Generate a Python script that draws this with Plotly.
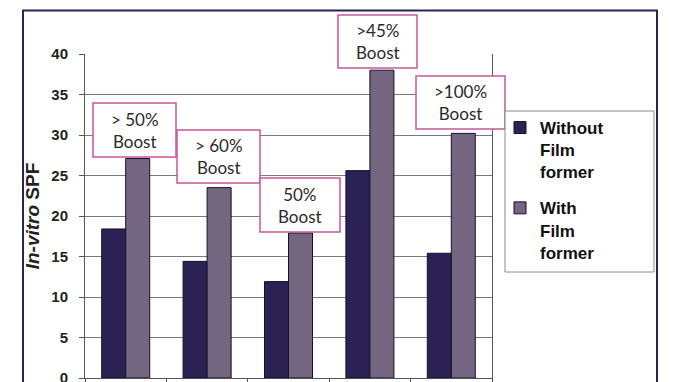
import plotly.graph_objects as go

categories = ["A", "B", "C", "D", "E"]
without_film = [18.4, 14.4, 11.9, 25.6, 15.4]
with_film = [27.1, 23.5, 17.9, 38.0, 30.2]
boost_labels = ["> 50%<br>Boost", "> 60%<br>Boost", "50%<br>Boost", ">45%<br>Boost", ">100%<br>Boost"]
series_names = ["Without<br>Film<br>former", "With<br>Film<br>former"]

W, H = 678, 382
L, R, T, B = 85, 492, 54, 378  # plot area in pixels


def px(x):
    return (x - L) / (R - L)


def py(y):
    return (B - y) / (B - T)


fig = go.Figure()
fig.add_trace(go.Bar(x=categories, y=without_film, name=series_names[0], legendgroup="a",
                     marker=dict(color="#2b2152", line=dict(color="#15102a", width=1))))
fig.add_trace(go.Bar(x=categories, y=with_film, name=series_names[1], legendgroup="b",
                     marker=dict(color="#746680", line=dict(color="#15102a", width=1))))

# annotation boxes (pixel boxes: x0, y0, x1, y1)
boxes = [(93, 103, 176, 157), (177, 130, 260, 183), (260, 178, 340, 232),
         (338, 15, 417, 68), (416, 76, 505, 129)]
shapes = []
annotations = []
for (x0, y0, x1, y1), txt in zip(boxes, boost_labels):
    shapes.append(dict(type="rect", xref="paper", yref="paper",
                       x0=px(x0), x1=px(x1), y0=py(y1), y1=py(y0),
                       line=dict(color="#c8559b", width=1.5), fillcolor="white", layer="above"))
    annotations.append(dict(xref="paper", yref="paper", x=px((x0 + x1) / 2), y=py((y0 + y1) / 2),
                            text=txt, showarrow=False, xanchor="center", yanchor="middle",
                            font=dict(family="Lato", size=17, color="#2a2a2a")))

# legend frame
shapes.append(dict(type="rect", xref="paper", yref="paper",
                   x0=px(505), x1=px(654), y0=py(272), y1=py(111),
                   line=dict(color="#8a8a8a", width=1), fillcolor="white", layer="above"))

# outer frame
shapes.append(dict(type="path", xref="paper", yref="paper",
                   path=f"M {px(23)} {-0.2} L {px(23)} {py(10.5)} L {px(657)} {py(10.5)} L {px(657)} {-0.2}",
                   line=dict(color="#2a2550", width=2)))

fig.update_layout(
    width=W, height=H,
    margin=dict(l=L, r=W - R, t=T, b=H - B, autoexpand=False),
    paper_bgcolor="white", plot_bgcolor="white",
    barmode="group", bargap=0.41, bargroupgap=0,
    showlegend=True,
    legend=dict(x=px(500), y=py(110), xanchor="left", yanchor="top",
                borderwidth=0, bgcolor="rgba(0,0,0,0)",
                font=dict(family="Liberation Sans", size=17, color="#111", weight="bold"),
                valign="top", tracegroupgap=11, traceorder="grouped", itemwidth=30),
    shapes=shapes,
    annotations=annotations,
    xaxis=dict(range=[-0.5, 4.5], showticklabels=False, ticks="outside", tickson="boundaries",
               ticklen=6, tickcolor="#555", showline=True, linecolor="#555", linewidth=1,
               showgrid=False, zeroline=False),
    yaxis=dict(range=[0, 40], dtick=5, ticks="outside", ticklen=5, tickcolor="#555",
               showline=True, linecolor="#555", linewidth=1, mirror=True,
               showgrid=True, gridcolor="#7a7a7a", gridwidth=1, zeroline=False,
               ticklabelstandoff=8, ticklabeloverflow="allow",
               tickfont=dict(family="Liberation Sans", size=15, color="#222", weight="bold"),
               title=dict(text="<i>In-vitro</i> SPF", standoff=6,
                          font=dict(family="Liberation Sans", size=19, color="#222", weight="bold"))),
)

fig.write_html("out.html", config={"displayModeBar": False},
               post_script="document.body.style.margin='0';document.body.style.overflow='hidden';")
